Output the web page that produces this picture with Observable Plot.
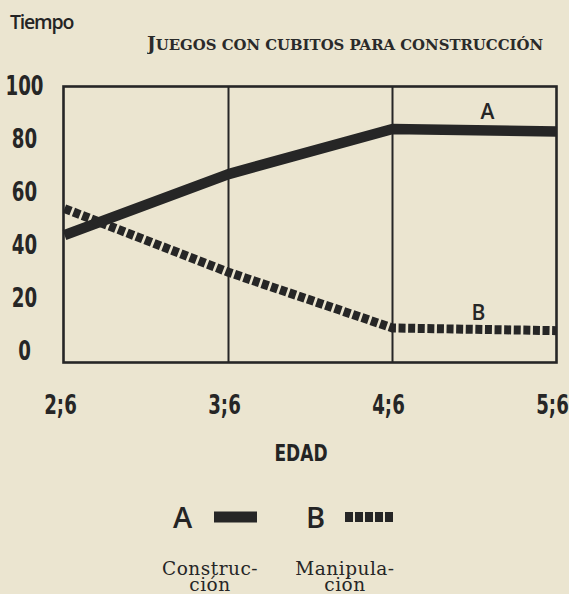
<!DOCTYPE html>
<html>
<head>
<meta charset="utf-8">
<script src="https://cdn.jsdelivr.net/npm/d3@7"></script>
<script src="https://cdn.jsdelivr.net/npm/@observablehq/plot@0.6"></script>
<style>
  html, body { margin: 0; padding: 0; background: #ebe5d0; }
  #wrap { position: relative; width: 569px; height: 594px; overflow: hidden; background: #ebe5d0; color: #242424; }
  #chart { position: absolute; left: 0; top: 0; }
  .abs { position: absolute; line-height: 1; white-space: nowrap; }
  .serif { font-family: "DejaVu Serif", serif; position: absolute; white-space: nowrap; }
  #tiempo { left: 10px; top: 12px; font-size: 19.5px; font-family: "Open Sans", sans-serif; font-weight: 600; letter-spacing: -1.2px; }
  #title { left: 147px; top: 33px; }
  #edad { left: 301px; top: 442px; font-size: 23px; font-family: "DejaVu Sans", sans-serif; font-weight: bold; transform: translateX(-50%) scaleX(0.74); }
  .legLetter { top: 502px; font-size: 29px; font-family: "Open Sans", sans-serif; font-weight: 600; }
  .legName { top: 561px; font-size: 18.5px; line-height: 15.5px; letter-spacing: 0.5px; text-align: center; transform: translateX(-50%); color: #262626; }
</style>
</head>
<body>
<div id="wrap">
  <div id="chart"></div>
  <div id="tiempo" class="abs"></div>
  <svg id="title" style="position:absolute" width="410" height="22">
    <text x="0" y="17" textLength="396" lengthAdjust="spacingAndGlyphs" font-family="DejaVu Serif, serif" font-weight="bold" fill="#2a2a2a"></text>
  </svg>
  <div id="edad" class="abs"></div>
  <div id="legend"></div>
</div>
<script>
// ---- data ----
const ages = ["2;6", "3;6", "4;6", "5;6"];
const construccion = [44, 67, 84, 83];   // A
const manipulacion = [54, 30, 9, 8];     // B
const yTicks = [0, 20, 40, 60, 80, 100];
const seriesKeys = ["A", "B"];
const seriesNames = ["Construc-\nción", "Manipula-\nción"];
const titleText = "Juegos con cubitos para construcción";
const yTitle = "Tiempo";
const xTitle = "EDAD";

const ink = "#262626";
const handFont = '"DejaVu Sans", sans-serif';

const dataA = ages.map((a, i) => ({age: a, v: construccion[i], key: seriesKeys[0]}));
const dataB = ages.map((a, i) => ({age: a, v: manipulacion[i], key: seriesKeys[1]}));

const chart = Plot.plot({
  width: 569,
  height: 594,
  marginLeft: 63,
  marginRight: 13,
  marginTop: 86,
  marginBottom: 232,
  style: {background: "transparent", color: ink, overflow: "visible"},
  x: {type: "point", domain: ages, padding: 0},
  y: {domain: [-4, 100]},
  marks: [
    Plot.ruleX(ages.slice(1, -1), {stroke: ink, strokeWidth: 2}),
    Plot.line(dataA, {x: "age", y: "v", stroke: ink, strokeWidth: 10.5, strokeLinecap: "butt", strokeLinejoin: "miter"}),
    Plot.line(dataB, {x: "age", y: "v", stroke: ink, strokeWidth: 9, strokeDasharray: "7,2.6", strokeLinecap: "butt"}),
    Plot.frame({stroke: ink, strokeWidth: 2.6}),
    Plot.axisY(yTicks, {tickSize: 0, tickPadding: 39, textAnchor: "middle", fontSize: 26, fontWeight: "bold", fontFamily: handFont, label: null}),
    Plot.axisX(ages, {tickSize: 0, tickPadding: 33, fontSize: 26, fontWeight: "bold", fontFamily: handFont, dx: -4, label: null}),
    Plot.text(dataA, Plot.selectLast({x: "age", y: "v", text: "key", dx: -69, dy: -19, fontSize: 21, fontWeight: 600, fontFamily: '"Open Sans", sans-serif', fill: ink})),
    Plot.text(dataB, Plot.selectLast({x: "age", y: "v", text: "key", dx: -78, dy: -17, fontSize: 21, fontWeight: 600, fontFamily: '"Open Sans", sans-serif', fill: ink}))
  ]
});
document.getElementById("chart").appendChild(chart);

// narrow hand-lettered look for tick labels: squeeze glyphs horizontally around their anchor
d3.select(chart)
  .selectAll('g[aria-label="y-axis tick label"] text, g[aria-label="x-axis tick label"] text')
  .each(function () {
    const sel = d3.select(this);
    const tr = sel.attr("transform") || "";
    sel.attr("transform", (tr + " scale(0.7,1)").trim());
  });

document.getElementById("tiempo").textContent = yTitle;
document.getElementById("edad").textContent = xTitle;

// title in small caps: initial capital larger, rest as reduced capitals
const t = d3.select("#title text");
t.append("tspan").attr("font-size", 18).text(titleText[0].toUpperCase());
t.append("tspan").attr("font-size", 14.5).text(titleText.slice(1).toUpperCase());

// legend
const legend = document.getElementById("legend");
const legendSpec = [
  {letterX: 173, swatchX: 214, swatchW: 43, dash: null, nameX: 210},
  {letterX: 306, swatchX: 345, swatchW: 50, dash: "8,2", nameX: 345}
];
seriesKeys.forEach((k, i) => {
  const s = legendSpec[i];
  const L = document.createElement("div");
  L.className = "abs legLetter";
  L.style.left = s.letterX + "px";
  L.textContent = k;
  legend.appendChild(L);
  const svg = d3.create("svg").attr("width", s.swatchW).attr("height", 12)
    .style("position", "absolute").style("left", s.swatchX + "px").style("top", "511px");
  svg.append("line").attr("x1", 0).attr("x2", s.swatchW).attr("y1", 6).attr("y2", 6)
    .attr("stroke", ink).attr("stroke-width", i === 0 ? 11 : 10)
    .attr("stroke-dasharray", s.dash);
  legend.appendChild(svg.node());
  const N = document.createElement("div");
  N.className = "serif legName";
  N.style.left = s.nameX + "px";
  N.innerHTML = seriesNames[i].split("\n").join("<br>");
  legend.appendChild(N);
});
</script>
</body>
</html>
